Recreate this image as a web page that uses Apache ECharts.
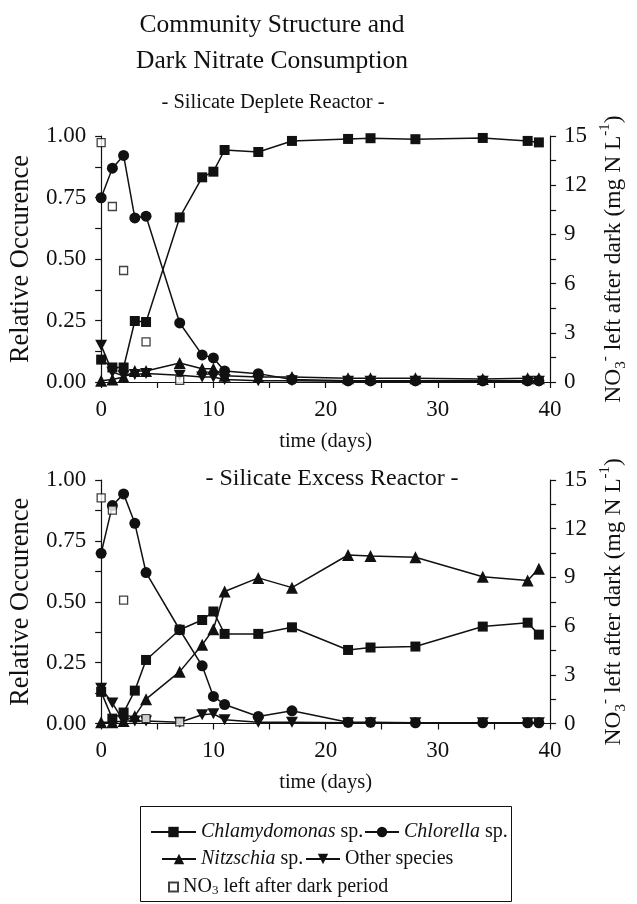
<!DOCTYPE html>
<html>
<head>
<meta charset="utf-8">
<script src="https://cdn.jsdelivr.net/npm/echarts@6/dist/echarts.min.js"></script>
<style>
html,body{margin:0;padding:0;background:#fff;}
#chart{width:637px;height:904px;}
</style>
</head>
<body>
<div id="chart"></div>
<script>
// ---------- data ----------
const days = [0, 1, 2, 3, 4, 7, 9, 10, 11, 14, 17, 22, 24, 28, 34, 38, 39];
const nitrateDays = [0, 1, 2, 4, 7];

// Silicate Deplete Reactor
const depleteChlamydomonas = [0.091, 0.059, 0.059, 0.248, 0.244, 0.669, 0.832, 0.855, 0.943, 0.935, 0.980, 0.988, 0.991, 0.987, 0.992, 0.980, 0.974];
const depleteChlorella     = [0.749, 0.869, 0.921, 0.667, 0.674, 0.240, 0.110, 0.098, 0.045, 0.034, 0.010, 0.005, 0.005, 0.005, 0.005, 0.005, 0.005];
const depleteNitzschia     = [0.005, 0.010, 0.020, 0.045, 0.045, 0.077, 0.054, 0.054, 0.025, 0.020, 0.020, 0.015, 0.015, 0.015, 0.012, 0.015, 0.015];
const depleteOther         = [0.149, 0.040, 0.025, 0.030, 0.035, 0.027, 0.020, 0.020, 0.010, 0.005, 0.005, 0.003, 0.003, 0.003, 0.003, 0.003, 0.003];
const depleteNitrate       = [14.6, 10.7, 6.8, 2.45, 0.1];

// Silicate Excess Reactor
const excessChlamydomonas = [0.130, 0.020, 0.045, 0.135, 0.261, 0.385, 0.425, 0.460, 0.368, 0.368, 0.395, 0.302, 0.312, 0.316, 0.398, 0.414, 0.365];
const excessChlorella     = [0.699, 0.895, 0.943, 0.822, 0.620, 0.385, 0.237, 0.111, 0.078, 0.029, 0.052, 0.005, 0.005, 0.003, 0.003, 0.003, 0.003];
const excessNitzschia     = [0.005, 0.005, 0.010, 0.030, 0.100, 0.213, 0.323, 0.387, 0.542, 0.598, 0.558, 0.692, 0.688, 0.683, 0.603, 0.587, 0.636];
const excessOther         = [0.145, 0.084, 0.010, 0.010, 0.010, 0.005, 0.036, 0.040, 0.015, 0.005, 0.005, 0.003, 0.003, 0.003, 0.003, 0.003, 0.003];
const excessNitrate       = [13.9, 13.15, 7.6, 0.3, 0.1];

const leftTicks = { min: 0, max: 1, interval: 0.25 };
const rightTicks = { min: 0, max: 15, interval: 3 };
const xTicks = { min: 0, max: 40, interval: 10 };

const names = ['Chlamydomonas sp.', 'Chlorella sp.', 'Nitzschia sp.', 'Other species', 'NO3 left after dark period'];

// ---------- chart ----------
const FONT = '"Liberation Serif", "Times New Roman", serif';
const INK = '#111';
const pair = (xs, ys) => xs.map((x, i) => [x, ys[i]]);

const chart = echarts.init(document.getElementById('chart'), null, { renderer: 'canvas' });

const grids = [
  { left: 101, top: 136, width: 457, height: 246 },
  { left: 101, top: 480, width: 457, height: 243.5 }
];

function xAxisFor(i) {
  return {
    type: 'value', gridIndex: i, min: xTicks.min, max: xTicks.max, interval: xTicks.interval,
    name: 'time (days)', nameLocation: 'middle', nameGap: 49,
    nameTextStyle: { fontFamily: FONT, fontSize: 20.5, color: INK },
    axisLine: { show: true, onZero: false, lineStyle: { color: INK, width: 1.2 } },
    axisTick: { show: true, inside: false, length: 6, lineStyle: { color: INK, width: 1.2 } },
    minorTick: { show: true, splitNumber: 2, length: 6, lineStyle: { color: INK, width: 1.2 } },
    axisLabel: { fontFamily: FONT, fontSize: 23, color: INK, margin: 16 },
    splitLine: { show: false }, minorSplitLine: { show: false }
  };
}
function leftAxisFor(i) {
  return {
    type: 'value', gridIndex: i, position: 'left', min: leftTicks.min, max: leftTicks.max, interval: leftTicks.interval,
    name: 'Relative Occurence', nameLocation: 'middle', nameGap: 66, nameRotate: 90,
    nameTextStyle: { fontFamily: FONT, fontSize: 26.5, color: INK },
    axisLine: { show: true, onZero: false, lineStyle: { color: INK, width: 1.2 } },
    axisTick: { show: true, inside: false, length: 6, lineStyle: { color: INK, width: 1.2 } },
    minorTick: { show: true, splitNumber: 2, length: 6, lineStyle: { color: INK, width: 1.2 } },
    axisLabel: { fontFamily: FONT, fontSize: 23, color: INK, margin: 15, formatter: v => v.toFixed(2) },
    splitLine: { show: false }, minorSplitLine: { show: false }
  };
}
function rightAxisFor(i) {
  return {
    type: 'value', gridIndex: i, position: 'right', min: rightTicks.min, max: rightTicks.max, interval: rightTicks.interval,
    name: '{t|NO}{sub|3}{sup|-}{t| left after dark (mg N L}{sup|-1}{t|)}',
    nameLocation: 'middle', nameGap: 47, nameRotate: 90,
    nameTextStyle: {
      fontFamily: FONT, fontSize: 23.5, color: INK,
      rich: {
        t: { fontFamily: FONT, fontSize: 23.5, color: INK, lineHeight: 31, verticalAlign: 'middle' },
        sub: { fontFamily: FONT, fontSize: 15, color: INK, lineHeight: 15, verticalAlign: 'bottom' },
        sup: { fontFamily: FONT, fontSize: 15, color: INK, lineHeight: 15, verticalAlign: 'top' }
      }
    },
    axisLine: { show: true, onZero: false, lineStyle: { color: INK, width: 1.2 } },
    axisTick: { show: true, inside: false, length: 6, lineStyle: { color: INK, width: 1.2 } },
    minorTick: { show: true, splitNumber: 2, length: 6, lineStyle: { color: INK, width: 1.2 } },
    axisLabel: { fontFamily: FONT, fontSize: 23, color: INK, margin: 14 },
    splitLine: { show: false }, minorSplitLine: { show: false }
  };
}

const downTri = 'path://M0,0L10,0L5,9Z';
function lineSeries(name, xi, yi, ys, symbol, size) {
  return {
    name, type: 'line', xAxisIndex: xi, yAxisIndex: yi, data: pair(days, ys),
    symbol, symbolSize: size, showSymbol: true,
    lineStyle: { color: INK, width: 1.5 },
    itemStyle: { color: INK, borderWidth: 0 },
    z: 3
  };
}
function nitrateSeries(xi, yi, ys) {
  return {
    name: names[4], type: 'scatter', xAxisIndex: xi, yAxisIndex: yi, data: pair(nitrateDays, ys),
    symbol: 'rect', symbolSize: 8,
    itemStyle: { color: '#fff', borderColor: INK, borderWidth: 1.3 },
    z: 5
  };
}

const series = [];
const sets = [
  [depleteChlamydomonas, depleteChlorella, depleteNitzschia, depleteOther, depleteNitrate],
  [excessChlamydomonas, excessChlorella, excessNitzschia, excessOther, excessNitrate]
];
sets.forEach((s, i) => {
  const yl = i * 2, yr = i * 2 + 1;
  series.push(lineSeries(names[0], i, yl, s[0], 'rect', 10));
  series.push(lineSeries(names[1], i, yl, s[1], 'circle', 11));
  series.push(lineSeries(names[2], i, yl, s[2], 'triangle', 12));
  series.push(lineSeries(names[3], i, yl, s[3], downTri, [12, 11]));
  series.push(nitrateSeries(i, yr, s[4]));
});

const legendRich = {
  i: { fontFamily: FONT, fontSize: 20, fontStyle: 'italic', color: INK, lineHeight: 20 },
  n: { fontFamily: FONT, fontSize: 20, color: INK, lineHeight: 20 },
  sub: { fontFamily: FONT, fontSize: 13, color: INK, lineHeight: 13, verticalAlign: 'bottom' }
};
function legendFormatter(name) {
  if (name === names[0]) return '{i|Chlamydomonas}{n| sp.}';
  if (name === names[1]) return '{i|Chlorella}{n| sp.}';
  if (name === names[2]) return '{i|Nitzschia}{n| sp.}';
  if (name === names[3]) return '{n|Other species}';
  return '{n|NO}{sub|3}{n| left after dark period}';
}
function legendItem(name, left, top, w, h) {
  return {
    data: [name], left, top, orient: 'horizontal', itemGap: 0, itemWidth: w, itemHeight: h,
    padding: 0, selectedMode: false, formatter: legendFormatter,
    textStyle: { fontFamily: FONT, fontSize: 20, color: INK, rich: legendRich }
  };
}

const option = {
  animation: false,
  backgroundColor: '#fff',
  grid: grids,
  xAxis: [xAxisFor(0), xAxisFor(1)],
  yAxis: [leftAxisFor(0), rightAxisFor(0), leftAxisFor(1), rightAxisFor(1)],
  legend: [
    legendItem(names[0], 150, 822, 45, 13),
    legendItem(names[1], 364, 822, 34, 13),
    legendItem(names[2], 161, 849, 34, 13),
    legendItem(names[3], 305, 849, 34, 13),
    legendItem(names[4], 168, 877, 9, 9)
  ],
  graphic: [
    { type: 'text', x: 272, y: 25, style: { text: 'Community Structure and', font: '25.5px ' + FONT, fill: INK, align: 'center', verticalAlign: 'middle' } },
    { type: 'text', x: 272, y: 61.5, style: { text: 'Dark Nitrate Consumption', font: '25.5px ' + FONT, fill: INK, align: 'center', verticalAlign: 'middle' } },
    { type: 'text', x: 273, y: 103, style: { text: '- Silicate Deplete Reactor -', font: '20.5px ' + FONT, fill: INK, align: 'center', verticalAlign: 'middle' } },
    { type: 'text', x: 332, y: 479, style: { text: '- Silicate Excess Reactor -', font: '24px ' + FONT, fill: INK, align: 'center', verticalAlign: 'middle' } },
    { type: 'rect', shape: { x: 140.5, y: 806.5, width: 371, height: 95 }, style: { fill: 'none', stroke: INK, lineWidth: 1 }, z: -1 }
  ],
  series
};
chart.setOption(option);
</script>
</body>
</html>
